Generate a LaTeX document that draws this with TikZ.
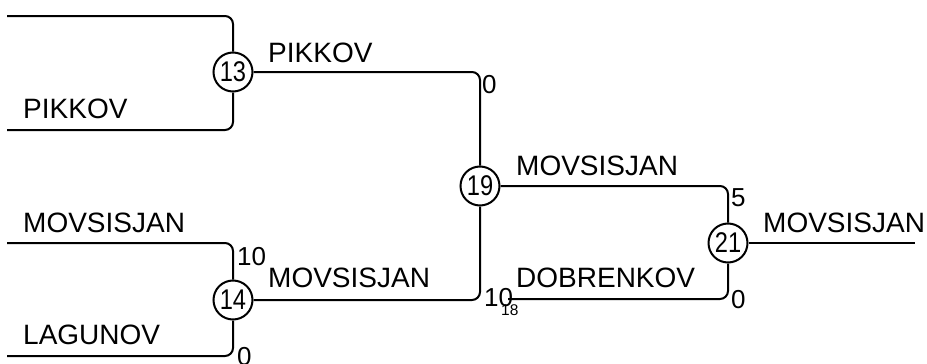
\documentclass[tikz,border=0pt]{standalone}
\usepackage{fontspec}
\setmainfont{Liberation Sans}
\usetikzlibrary{positioning}
\begin{document}
\begin{tikzpicture}[x=1pt,y=-1pt,
  wire/.style={line width=2pt, rounded corners=8pt, line cap=butt},
  game/.style={circle, draw, line width=2pt, minimum size=39pt, inner sep=0pt,
    font=\fontsize{28.5}{28.5}\selectfont},
  pname/.style={anchor=base west, inner sep=0pt, font=\fontsize{28}{28}\selectfont},
  pscore/.style={anchor=north west, inner sep=0pt, font=\fontsize{26}{26}\selectfont},
  psmall/.style={anchor=north west, inner sep=0pt, font=\fontsize{15.5}{15.5}\selectfont}]
\useasboundingbox (0,0) rectangle (927,364);
% games
\node[game] (m13) at (233,72) {\scalebox{0.83}[1]{13}};
\node[game] (m14) at (233,300) {\scalebox{0.83}[1]{14}};
\node[game] (m19) at (480,186) {\scalebox{0.83}[1]{19}};
\node[game] (m21) at (728,243) {\scalebox{0.83}[1]{21}};
% free ends
\coordinate (a1) at (7,16);
\coordinate (a2) at (7,130);
\coordinate (b1) at (7,243);
\coordinate (b2) at (7,356);
\coordinate (d1) at (508,299);
\coordinate (w) at (915,243);
% connectors
\draw[wire] (a1) -| (m13);
\draw[wire] (a2) -| (m13);
\draw[wire] (b1) -| (m14);
\draw[wire] (b2) -| (m14);
\draw[wire] (m13) -| (m19);
\draw[wire] (m14) -| (m19);
\draw[wire] (m19) -| (m21);
\draw[wire] (d1) -| (m21);
\draw[wire] (m21) -- (w);
% names
\node[pname] (n1) at (23,118) {PIKKOV};
\node[pname] (n2) at (268,62) {PIKKOV};
\node[pname] (n3) at (23,232) {MOVSISJAN};
\node[pname] (n4) at (23,344) {LAGUNOV};
\node[pname] (n5) at (268,287) {MOVSISJAN};
\node[pname] (n6) at (516,175) {MOVSISJAN};
\node[pname] (n7) at (516,287) {DOBRENKOV};
\node[pname] (n8) at (763,232) {MOVSISJAN};
% scores
\node[pscore] (s1) at (482,75) {0};
\node[pscore] (s2) at (237,247) {10};
\node[pscore] (s3) at (237,347) {0};
\node[pscore] (s4) at (484,288) {10};
\node[psmall] (s5) at (501,304) {18};
\node[pscore] (s6) at (731,188) {5};
\node[pscore] (s7) at (731,290) {0};
\end{tikzpicture}
\end{document}
